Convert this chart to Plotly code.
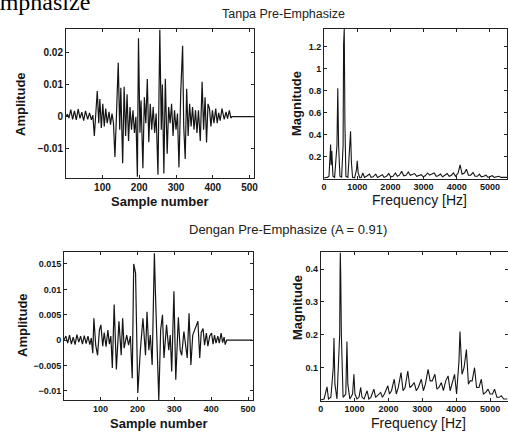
import plotly.graph_objects as go

W, H = 508, 433

# --- time-domain signal without pre-emphasis (extrema, sample number / amplitude) ---
n_tanpa = [1, 5, 9, 14, 19, 24, 29, 34, 39, 44, 49, 54, 60, 65, 70, 74,
           78, 82, 86, 90, 93, 97, 101, 105, 109, 113, 118, 122, 126, 130,
           134, 138, 143, 147, 150, 155, 159, 163, 167, 171, 175, 179, 183, 187, 191,
           195, 198, 202, 205, 210, 214, 218, 222, 226, 230, 234, 238, 242, 246,
           251, 256, 260, 263, 267, 271, 276, 280, 284, 288, 292, 296, 300, 304,
           308, 313, 318, 321, 325, 329, 333, 337, 341, 345, 349, 353, 357, 361,
           366, 371, 375, 379, 383, 387, 391, 395, 399, 403, 408, 412, 416, 420,
           425, 431, 436, 440, 445, 449, 452, 512]
amp_tanpa = [0.0, 0.0008, -0.0004, 0.0022, -0.0008, 0.0018, -0.001, 0.0024, -0.0005, 0.0014, -0.0012, 0.0018, -0.0008, 0.0012, -0.001, 0.0005,
             -0.006, 0.0, 0.008, -0.002, 0.0055, -0.0035, 0.004, -0.003, 0.0025, -0.002, 0.0015, -0.0025, 0.001, -0.002,
             -0.0125, 0.0, 0.0167, -0.004, 0.009, -0.0144, 0.0093, -0.006, 0.007, -0.0075, 0.003, -0.004, 0.002, -0.005, 0.0,
             -0.0186, 0.0243, -0.005, 0.005, -0.016, 0.006, -0.002, 0.0117, -0.0079, 0.004, -0.004, 0.003, -0.005, 0.001,
             -0.018, 0.027, -0.004, 0.01, -0.0176, 0.0118, -0.0115, 0.003, -0.002, 0.004, -0.006, 0.002, -0.004, 0.001,
             -0.0157, 0.008, 0.022, -0.003, -0.0131, 0.0087, -0.006, 0.004, -0.003, 0.003, -0.004, 0.002, -0.005, 0.002,
             -0.0075, 0.0108, -0.004, 0.006, -0.008, 0.004, 0.0025, -0.003, 0.002, -0.002, 0.0025, -0.002, 0.0012, -0.0012,
             0.0025, -0.0008, 0.0015, -0.0006, 0.002, -0.0004, 0.0, 0.0]

# --- time-domain signal with pre-emphasis (A = 0.91) ---
n_dengan = [1, 6, 11, 16, 21, 26, 31, 36, 41, 46, 51, 56, 61, 66, 71, 75,
            79, 82, 87, 92, 97, 101, 106, 110, 115, 120, 124, 128,
            132, 137, 143, 150, 156, 160, 164, 171, 176, 181,
            186, 190, 195, 201, 208, 215, 222, 226, 231, 235,
            240, 244, 246, 249, 258, 263, 268, 272, 279, 285, 289,
            293, 299, 304, 311, 316, 320, 326, 331, 335, 340, 345, 350,
            355, 364, 369, 373, 378, 382, 387, 391, 396, 401, 405, 409, 413, 418, 422, 427, 431, 435, 438, 442, 512]
amp_dengan = [0.0, 0.0008, -0.0006, 0.001, -0.0008, 0.0006, -0.0009, 0.0011, -0.0004, 0.0008, -0.0008, 0.0009, -0.0007, 0.0008, -0.0009, 0.0004,
              -0.0026, 0.0043, -0.001, -0.003, 0.002, 0.003, -0.0012, 0.0015, -0.0013, 0.002, -0.0008, 0.0008,
              -0.0055, 0.007, -0.0058, 0.0037, -0.003, 0.0043, -0.0016, 0.001, -0.001, 0.0008,
              -0.0075, 0.015, 0.0132, -0.0104, -0.002, 0.0043, -0.003, 0.0056, -0.002, 0.001,
              -0.0049, 0.012, 0.0171, 0.009, -0.0118, 0.002, 0.005, -0.0035, 0.003, -0.002, 0.001,
              -0.0062, 0.0096, -0.0078, 0.0045, -0.002, -0.003, 0.0017, -0.001, -0.0035, 0.0053, -0.0049, 0.001,
              0.002, 0.0037, -0.0035, 0.0015, 0.0023, -0.001, 0.0014, -0.0012, 0.0008, 0.0014, -0.0008, 0.001, -0.0006, 0.0008, -0.0006, 0.0014, -0.0005, 0.0006, -0.0009, 0.0, 0.0]

# --- magnitude spectrum without pre-emphasis ---
f_tanpa = [0, 100, 150, 200, 215, 235, 270, 320, 390, 415, 440, 480, 530, 575, 590, 610, 630, 660, 720,
           780, 800, 825, 860, 920, 980, 1000, 1030, 1080, 1120, 1170, 1220, 1280, 1370, 1420, 1480,
           1560, 1610, 1680, 1760, 1810, 1880, 1950, 2010, 2080, 2150, 2210, 2270, 2340, 2400, 2470,
           2540, 2600, 2660, 2730, 2790, 2860, 2930, 2990, 3050, 3120, 3180, 3250, 3320, 3380, 3440,
           3510, 3570, 3640, 3710, 3770, 3840, 3900, 3960, 4040, 4100, 4160, 4230, 4290, 4350, 4420,
           4490, 4550, 4620, 4680, 4740, 4810, 4880, 4940, 5010, 5070, 5130, 5200, 5270, 5330, 5400,
           5460, 5512]
mag_tanpa = [0.005, 0.01, 0.02, 0.31, 0.12, 0.25, 0.02, 0.01, 0.3, 0.82, 0.3, 0.02, 0.01, 0.3, 1.22, 1.36, 0.5, 0.02, 0.01,
             0.3, 0.43, 0.15, 0.01, 0.005, 0.08, 0.16, 0.05, 0.005, 0.01, 0.05, 0.01, 0.02, 0.04, 0.01, 0.015,
             0.04, 0.01, 0.02, 0.035, 0.01, 0.02, 0.045, 0.015, 0.02, 0.05, 0.02, 0.03, 0.065, 0.025, 0.03,
             0.06, 0.03, 0.035, 0.045, 0.02, 0.025, 0.035, 0.015, 0.025, 0.05, 0.03, 0.04, 0.05, 0.02, 0.025,
             0.04, 0.015, 0.03, 0.045, 0.02, 0.03, 0.05, 0.02, 0.05, 0.125, 0.04, 0.05, 0.085, 0.03, 0.03,
             0.055, 0.02, 0.02, 0.04, 0.015, 0.02, 0.03, 0.01, 0.015, 0.025, 0.01, 0.015, 0.02, 0.01, 0.01,
             0.015, 0.01]

# --- magnitude spectrum with pre-emphasis ---
f_dengan = [0, 100, 186, 230, 300, 370, 392, 420, 480, 560, 572, 579, 590, 610, 660, 740, 760, 775, 800, 860,
            940, 980, 1010, 1070, 1130, 1180, 1220, 1280, 1370, 1420, 1480, 1570, 1620, 1680, 1770, 1820, 1880,
            1980, 2030, 2090, 2170, 2230, 2290, 2370, 2430, 2490, 2570, 2630, 2690, 2760, 2820, 2880, 2970,
            3030, 3090, 3170, 3230, 3290, 3370, 3430, 3490, 3560, 3620, 3690, 3760, 3820, 3880, 3950, 4010,
            4080, 4110, 4170, 4230, 4300, 4360, 4410, 4470, 4540, 4600, 4670, 4740, 4800, 4870, 4940, 5000,
            5070, 5130, 5200, 5270, 5330, 5400, 5460, 5512]
mag_dengan = [0.002, 0.005, 0.042, 0.005, 0.01, 0.1, 0.19, 0.05, 0.005, 0.2, 0.39, 0.45, 0.39, 0.2, 0.01, 0.02, 0.12, 0.18, 0.05, 0.005,
              0.02, 0.08, 0.02, 0.005, 0.01, 0.04, 0.01, 0.005, 0.03, 0.005, 0.01, 0.035, 0.01, 0.015, 0.025, 0.01, 0.02,
              0.045, 0.02, 0.03, 0.065, 0.02, 0.04, 0.085, 0.03, 0.04, 0.09, 0.04, 0.045, 0.055, 0.03, 0.04, 0.065,
              0.03, 0.05, 0.095, 0.06, 0.06, 0.08, 0.035, 0.04, 0.055, 0.03, 0.06, 0.075, 0.03, 0.05, 0.08, 0.02,
              0.12, 0.21, 0.08, 0.1, 0.155, 0.05, 0.06, 0.06, 0.1, 0.04, 0.04, 0.065, 0.02, 0.025, 0.035, 0.02,
              0.02, 0.035, 0.01, 0.01, 0.015, 0.005, 0.005, 0.005]

# tick values / labels
tl_x_ticks = [100, 200, 300, 400, 500]
tl_y_ticks = [-0.01, 0, 0.01, 0.02]
tl_y_text = ["\u22120.01", "0", "0.01", "0.02"]
tr_x_ticks = [0, 1000, 2000, 3000, 4000, 5000]
tr_y_ticks = [0.2, 0.4, 0.6, 0.8, 1, 1.2]
bl_y_ticks = [-0.01, -0.005, 0, 0.005, 0.01, 0.015]
bl_y_text = ["\u22120.01", "\u22120.005", "0", "0.005", "0.01", "0.015"]
br_y_ticks = [0.1, 0.2, 0.3, 0.4]

INK = "#151515"
FONT = "Liberation Sans"


def xd(a, b):
    return [a / W, b / W]


def yd(top, bottom):
    return [1 - bottom / H, 1 - top / H]


fig = go.Figure()
fig.add_trace(go.Scatter(x=n_tanpa, y=amp_tanpa, mode="lines", line=dict(color=INK, width=1.2),
                         xaxis="x", yaxis="y", showlegend=False))
fig.add_trace(go.Scatter(x=f_tanpa, y=mag_tanpa, mode="lines", line=dict(color=INK, width=1.1),
                         xaxis="x2", yaxis="y2", showlegend=False))
fig.add_trace(go.Scatter(x=n_dengan, y=amp_dengan, mode="lines", line=dict(color=INK, width=1.2),
                         xaxis="x3", yaxis="y3", showlegend=False))
fig.add_trace(go.Scatter(x=f_dengan, y=mag_dengan, mode="lines", line=dict(color=INK, width=1.1),
                         xaxis="x4", yaxis="y4", showlegend=False))

base = dict(showline=True, linecolor="#222", linewidth=1, mirror="ticks", ticks="inside",
            ticklen=3, tickcolor="#222", showgrid=False, zeroline=False, automargin=False,
            fixedrange=True)


def ax(domain, rng, tickvals, ticktext=None, size=9, anchor=None):
    d = dict(base)
    d.update(domain=domain, range=rng, tickmode="array", tickvals=tickvals,
             tickfont=dict(family=FONT, size=size, color=INK, weight="bold"), anchor=anchor)
    if ticktext is not None:
        d["ticktext"] = ticktext
    return d


fig.update_layout(
    width=W, height=H, margin=dict(l=0, r=0, t=0, b=0),
    paper_bgcolor="white", plot_bgcolor="white",
    xaxis=ax(xd(66, 254), [1, 512], tl_x_ticks, size=10, anchor="y"),
    yaxis=ax(yd(29, 178), [-0.019, 0.0272], tl_y_ticks, tl_y_text, size=10, anchor="x"),
    xaxis2=ax(xd(324, 507), [0, 5512.5], tr_x_ticks, size=9, anchor="y2"),
    yaxis2=ax(yd(29, 178.5), [0, 1.36], tr_y_ticks, size=9, anchor="x2"),
    xaxis3=ax(xd(64, 252.5), [1, 512], tl_x_ticks, size=9, anchor="y3"),
    yaxis3=ax(yd(252.3, 400), [-0.0118, 0.0173], bl_y_ticks, bl_y_text, size=9, anchor="x3"),
    xaxis4=ax(xd(320.7, 507.5), [0, 5512.5], tr_x_ticks, size=9, anchor="y4"),
    yaxis4=ax(yd(252.3, 400.6), [0, 0.451], br_y_ticks, size=9, anchor="x4"),
)


def note(text, x, y, size, bold=False, angle=0, family=FONT, xanchor="center", yanchor="middle", color=INK):
    fig.add_annotation(text=text, x=x / W, y=1 - y / H, xref="paper", yref="paper",
                       showarrow=False, textangle=angle, xanchor=xanchor, yanchor=yanchor,
                       font=dict(family=family, size=size, color=color,
                                 weight="bold" if bold else "normal"))


# caption fragment from the page above the figure
note("Emphasize", 92, 17, 24, family="Liberation Serif", xanchor="right", yanchor="bottom", color="#000")

# group titles
note("Tanpa Pre-Emphasize", 283, 14, 12.5, color="#222")
note("Dengan Pre-Emphasize (A = 0.91)", 288, 230, 13, color="#222")

# axis titles
note("Amplitude", 21, 104, 13, bold=True, angle=-90)
note("Sample number", 160, 201, 13, bold=True)
note("Magnitude", 297, 104, 13, bold=True, angle=-90)
note("Frequency [Hz]", 419, 200, 14)
note("Amplitude", 22, 325, 13, bold=True, angle=-90)
note("Sample number", 159, 423, 13, bold=True)
note("Magnitude", 297, 308, 13, bold=True, angle=-90)
note("Frequency [Hz]", 418, 423, 14)

fig.write_html("out.html")
